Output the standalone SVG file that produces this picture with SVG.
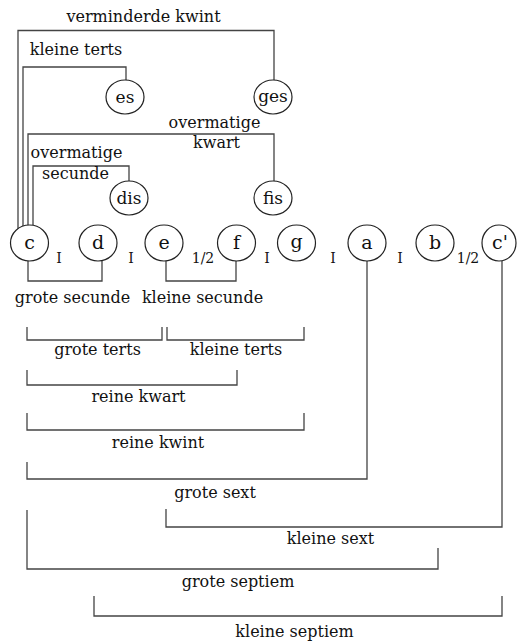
<svg xmlns="http://www.w3.org/2000/svg" width="517" height="641" viewBox="0 0 517 641">
<style>
  .bg{fill:#fff}
  .n ellipse{fill:#fff;stroke:#222;stroke-width:1.2}
  .n text{font-family:"DejaVu Serif","Liberation Serif",serif;font-size:19px;fill:#111;text-anchor:middle}
  .n text.w{font-size:17px}
  .lbl{font-family:"DejaVu Serif","Liberation Serif",serif;font-size:16px;fill:#111;text-anchor:middle}
  .step{font-family:"DejaVu Serif","Liberation Serif",serif;font-size:14px;fill:#111;text-anchor:middle}
  #connectors path{fill:none;stroke:#444;stroke-width:1.3}
</style>
<rect class="bg" x="0" y="0" width="517" height="641"/>
<g id="connectors">
  <path d="M18 229 V30.5 H274 V80"/>
  <path d="M23 226 V67 H126 V80"/>
  <path d="M28 225 V134 H274 V181"/>
  <path d="M33 225.5 V166 H129 V181"/>
  <path d="M28 261 V281 H102 V261"/>
  <path d="M166 261 V281 H236 V261"/>
  <path d="M27 327 V340 H162 V327"/>
  <path d="M167 327 V340 H304 V327"/>
  <path d="M27 370 V385 H237 V370"/>
  <path d="M27 413 V430 H304 V413"/>
  <path d="M27 462 V479 H367 V261"/>
  <path d="M166 509 V527 H502 V261"/>
  <path d="M27 510 V569 H438 V548"/>
  <path d="M94 596 V616 H502 V596"/>
</g>
<g id="es" class="n"><ellipse cx="125" cy="97" rx="19" ry="17"/><text class="w" x="125" y="103">es</text></g>
<g id="ges" class="n"><ellipse cx="273" cy="97" rx="19" ry="17"/><text class="w" x="273" y="102">ges</text></g>
<g id="dis" class="n"><ellipse cx="129" cy="198" rx="19" ry="17"/><text class="w" x="129" y="204">dis</text></g>
<g id="fis" class="n"><ellipse cx="273" cy="198" rx="19" ry="17"/><text class="w" x="273" y="204">fis</text></g>
<g id="c" class="n"><ellipse cx="29.5" cy="243" rx="19" ry="18"/><text x="29.5" y="249">c</text></g>
<g id="d" class="n"><ellipse cx="98" cy="243" rx="19" ry="18"/><text x="98" y="249">d</text></g>
<g id="e" class="n"><ellipse cx="164" cy="243" rx="19" ry="18"/><text x="164" y="249">e</text></g>
<g id="f" class="n"><ellipse cx="236.5" cy="243" rx="19" ry="18"/><text x="236.5" y="249">f</text></g>
<g id="g" class="n"><ellipse cx="296.5" cy="243" rx="19" ry="18"/><text x="296.5" y="248">g</text></g>
<g id="a" class="n"><ellipse cx="367" cy="243" rx="19" ry="18"/><text x="367" y="249">a</text></g>
<g id="b" class="n"><ellipse cx="435" cy="243" rx="19" ry="18"/><text x="435" y="249">b</text></g>
<g id="c2" class="n"><ellipse cx="499" cy="243" rx="17" ry="18"/><text x="500" y="249">c'</text></g>
<g id="labels">
  <text class="lbl" x="143.5" y="22">verminderde kwint</text>
  <text class="lbl" x="76" y="55">kleine terts</text>
  <text class="lbl" x="214.5" y="128">overmatige</text>
  <text class="lbl" x="216.5" y="148">kwart</text>
  <text class="lbl" x="76.5" y="158">overmatige</text>
  <text class="lbl" x="75.5" y="179">secunde</text>
  <text class="lbl" x="72.5" y="303">grote secunde</text>
  <text class="lbl" x="202.5" y="303">kleine secunde</text>
  <text class="lbl" x="97.5" y="355">grote terts</text>
  <text class="lbl" x="236" y="355">kleine terts</text>
  <text class="lbl" x="138.5" y="402">reine kwart</text>
  <text class="lbl" x="158" y="448">reine kwint</text>
  <text class="lbl" x="215" y="498">grote sext</text>
  <text class="lbl" x="330.5" y="544">kleine sext</text>
  <text class="lbl" x="238" y="587">grote septiem</text>
  <text class="lbl" x="294.5" y="637">kleine septiem</text>
  <text class="step" x="59" y="263">I</text>
  <text class="step" x="131" y="263">I</text>
  <text class="step" x="203" y="263">1/2</text>
  <text class="step" x="267" y="263">I</text>
  <text class="step" x="333" y="263">I</text>
  <text class="step" x="400" y="263">I</text>
  <text class="step" x="468" y="263">1/2</text>
</g>
</svg>
